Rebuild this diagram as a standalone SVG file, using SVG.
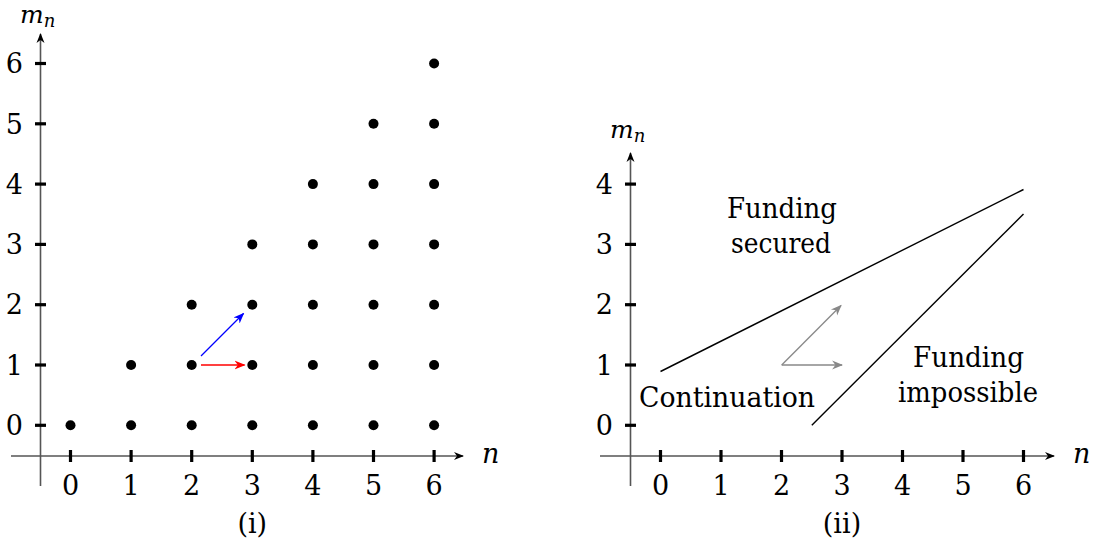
<svg xmlns="http://www.w3.org/2000/svg" width="1100" height="552" viewBox="0 0 1100 552" font-family="'DejaVu Serif', 'Liberation Serif', serif">
<style>
text{font-family:'DejaVu Serif','Liberation Serif',serif;fill:#000}
.lbl{font-size:27px}
.it{font-style:italic}
.axis{stroke:#555;stroke-width:1.6;fill:none}
.tick{stroke:#000;stroke-width:3.2}
.dot{fill:#000}
.line{stroke:#000;stroke-width:1.4;fill:none}
</style>
<defs>
<marker id="ah" viewBox="0 0 10 10" refX="9" refY="5" markerWidth="10" markerHeight="10" markerUnits="userSpaceOnUse" orient="auto">
<path d="M0,1 L10,5 L0,9 L3,5 Z" fill="#000"/>
</marker>
<marker id="ahb" viewBox="0 0 10 10" refX="9" refY="5" markerWidth="11" markerHeight="11" markerUnits="userSpaceOnUse" orient="auto">
<path d="M0,1 L10,5 L0,9 L3,5 Z" fill="#00f"/>
</marker>
<marker id="ahr" viewBox="0 0 10 10" refX="9" refY="5" markerWidth="11" markerHeight="11" markerUnits="userSpaceOnUse" orient="auto">
<path d="M0,1 L10,5 L0,9 L3,5 Z" fill="#f00"/>
</marker>
<marker id="ahg" viewBox="0 0 10 10" refX="9" refY="5" markerWidth="11" markerHeight="11" markerUnits="userSpaceOnUse" orient="auto">
<path d="M0,1 L10,5 L0,9 L3,5 Z" fill="#888"/>
</marker>
</defs>

<g id="plot-i">
<g id="axes-i">
<line class="axis" x1="40.5" y1="486" x2="40.5" y2="34" marker-end="url(#ah)"/>
<line class="axis" x1="11" y1="456" x2="463" y2="456" marker-end="url(#ah)"/>
<g class="tick">
<line x1="70.5" y1="450" x2="70.5" y2="462"/><line x1="131.1" y1="450" x2="131.1" y2="462"/><line x1="191.7" y1="450" x2="191.7" y2="462"/><line x1="252.3" y1="450" x2="252.3" y2="462"/><line x1="312.9" y1="450" x2="312.9" y2="462"/><line x1="373.5" y1="450" x2="373.5" y2="462"/><line x1="434.1" y1="450" x2="434.1" y2="462"/>
<line x1="35" y1="425.3" x2="46" y2="425.3"/><line x1="35" y1="365" x2="46" y2="365"/><line x1="35" y1="304.7" x2="46" y2="304.7"/><line x1="35" y1="244.4" x2="46" y2="244.4"/><line x1="35" y1="184.1" x2="46" y2="184.1"/><line x1="35" y1="123.8" x2="46" y2="123.8"/><line x1="35" y1="63.5" x2="46" y2="63.5"/>
</g>
<g class="lbl" text-anchor="middle">
<text x="70.5" y="495">0</text><text x="131.1" y="495">1</text><text x="191.7" y="495">2</text><text x="252.3" y="495">3</text><text x="312.9" y="495">4</text><text x="373.5" y="495">5</text><text x="434.1" y="495">6</text>
</g>
<g class="lbl" text-anchor="end">
<text x="23" y="435">0</text><text x="23" y="374.7">1</text><text x="23" y="314.4">2</text><text x="23" y="254.1">3</text><text x="23" y="193.8">4</text><text x="23" y="133.5">5</text><text x="23" y="73.2">6</text>
</g>
<text class="it" font-size="25" x="20" y="23">m<tspan font-size="18" dy="4">n</tspan></text>
<text class="lbl it" x="482" y="463">n</text>
<text class="lbl" x="252.3" y="533" text-anchor="middle">(i)</text>
</g>
<g id="dots">
<circle class="dot" cx="70.5" cy="425.3" r="5"/>
<circle class="dot" cx="131.1" cy="425.3" r="5"/><circle class="dot" cx="131.1" cy="365" r="5"/>
<circle class="dot" cx="191.7" cy="425.3" r="5"/><circle class="dot" cx="191.7" cy="365" r="5"/><circle class="dot" cx="191.7" cy="304.7" r="5"/>
<circle class="dot" cx="252.3" cy="425.3" r="5"/><circle class="dot" cx="252.3" cy="365" r="5"/><circle class="dot" cx="252.3" cy="304.7" r="5"/><circle class="dot" cx="252.3" cy="244.4" r="5"/>
<circle class="dot" cx="312.9" cy="425.3" r="5"/><circle class="dot" cx="312.9" cy="365" r="5"/><circle class="dot" cx="312.9" cy="304.7" r="5"/><circle class="dot" cx="312.9" cy="244.4" r="5"/><circle class="dot" cx="312.9" cy="184.1" r="5"/>
<circle class="dot" cx="373.5" cy="425.3" r="5"/><circle class="dot" cx="373.5" cy="365" r="5"/><circle class="dot" cx="373.5" cy="304.7" r="5"/><circle class="dot" cx="373.5" cy="244.4" r="5"/><circle class="dot" cx="373.5" cy="184.1" r="5"/><circle class="dot" cx="373.5" cy="123.8" r="5"/>
<circle class="dot" cx="434.1" cy="425.3" r="5"/><circle class="dot" cx="434.1" cy="365" r="5"/><circle class="dot" cx="434.1" cy="304.7" r="5"/><circle class="dot" cx="434.1" cy="244.4" r="5"/><circle class="dot" cx="434.1" cy="184.1" r="5"/><circle class="dot" cx="434.1" cy="123.8" r="5"/><circle class="dot" cx="434.1" cy="63.5" r="5"/>
</g>
<g id="connectors-i">
<line x1="201" y1="356" x2="243.5" y2="313.5" stroke="#00f" stroke-width="1.3" marker-end="url(#ahb)"/>
<line x1="201" y1="365" x2="244.5" y2="365" stroke="#f00" stroke-width="1.3" marker-end="url(#ahr)"/>
</g>
</g>

<g id="plot-ii">
<g id="axes-ii">
<line class="axis" x1="630.5" y1="486" x2="630.5" y2="153" marker-end="url(#ah)"/>
<line class="axis" x1="600" y1="456" x2="1054" y2="456" marker-end="url(#ah)"/>
<g class="tick">
<line x1="660.5" y1="450" x2="660.5" y2="462"/><line x1="721" y1="450" x2="721" y2="462"/><line x1="781.5" y1="450" x2="781.5" y2="462"/><line x1="842" y1="450" x2="842" y2="462"/><line x1="902.5" y1="450" x2="902.5" y2="462"/><line x1="963" y1="450" x2="963" y2="462"/><line x1="1023.5" y1="450" x2="1023.5" y2="462"/>
<line x1="625" y1="425.3" x2="636" y2="425.3"/><line x1="625" y1="365" x2="636" y2="365"/><line x1="625" y1="304.7" x2="636" y2="304.7"/><line x1="625" y1="244.4" x2="636" y2="244.4"/><line x1="625" y1="184.1" x2="636" y2="184.1"/>
</g>
<g class="lbl" text-anchor="middle">
<text x="660.5" y="495">0</text><text x="721" y="495">1</text><text x="781.5" y="495">2</text><text x="842" y="495">3</text><text x="902.5" y="495">4</text><text x="963" y="495">5</text><text x="1023.5" y="495">6</text>
</g>
<g class="lbl" text-anchor="end">
<text x="613" y="435">0</text><text x="613" y="374.7">1</text><text x="613" y="314.4">2</text><text x="613" y="254.1">3</text><text x="613" y="193.8">4</text>
</g>
<text class="it" font-size="25" x="610" y="138">m<tspan font-size="18" dy="4">n</tspan></text>
<text class="lbl it" x="1073" y="463">n</text>
<text class="lbl" x="842" y="533" text-anchor="middle">(ii)</text>
</g>
<g id="boundary-lines">
<line class="line" x1="660.5" y1="371.5" x2="1023.5" y2="189.5"/>
<line class="line" x1="811.8" y1="425.3" x2="1023.5" y2="214"/>
</g>
<g id="region-labels" class="lbl" text-anchor="middle">
<text x="782" y="218" textLength="110" lengthAdjust="spacingAndGlyphs">Funding</text>
<text x="781" y="253" textLength="100" lengthAdjust="spacingAndGlyphs">secured</text>
<text x="727" y="407" textLength="176" lengthAdjust="spacingAndGlyphs">Continuation</text>
<text x="968.5" y="367" textLength="111" lengthAdjust="spacingAndGlyphs">Funding</text>
<text x="968" y="402" textLength="140" lengthAdjust="spacingAndGlyphs">impossible</text>
</g>
<g id="connectors-ii">
<line x1="781.7" y1="365" x2="841" y2="305.5" stroke="#888" stroke-width="1.3" marker-end="url(#ahg)"/>
<line x1="781.7" y1="365" x2="842" y2="365" stroke="#888" stroke-width="1.3" marker-end="url(#ahg)"/>
</g>
</g>
</svg>
